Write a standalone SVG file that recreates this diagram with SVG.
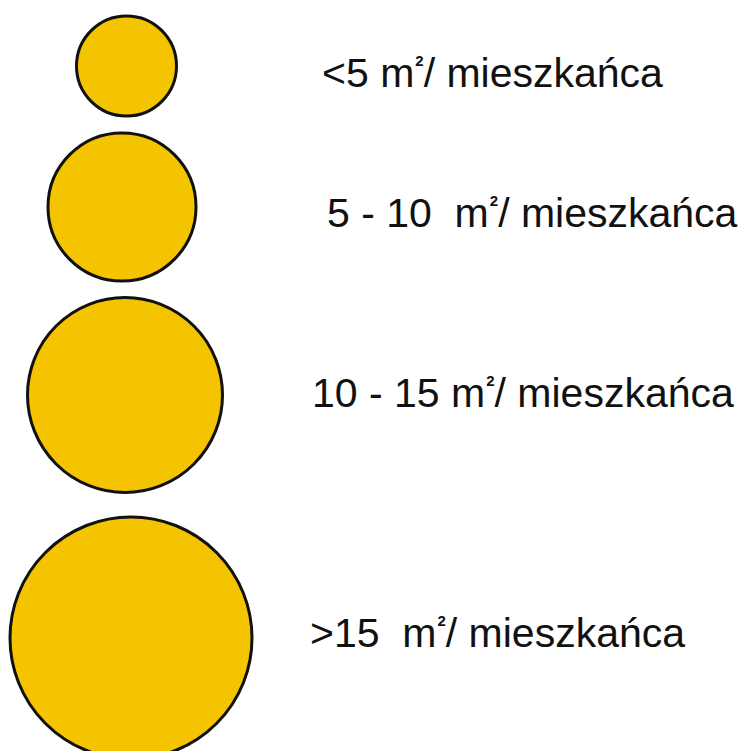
<svg xmlns="http://www.w3.org/2000/svg" width="740" height="751" viewBox="0 0 740 751">
<style>
.c{fill:#F4C400;stroke:#111;stroke-width:3}
.t{font-family:"Liberation Sans",Arial,sans-serif;font-size:41px;fill:#111}
.s{font-size:15px;font-weight:bold}
</style>
<rect width="740" height="751" fill="#fff"/>
<g id="n1"><circle class="c" cx="126.5" cy="66" r="50"/>
<text class="t" x="322" y="87">&lt;5 m<tspan class="s" dy="-21" dx="1">2</tspan><tspan dy="21" dx="0">/ mieszkańca</tspan></text></g>
<g id="n2"><circle class="c" cx="122" cy="207" r="74"/>
<text class="t" x="327" y="227" xml:space="preserve">5 - 10  m<tspan class="s" dy="-21" dx="1">2</tspan><tspan dy="21" dx="0">/ mieszkańca</tspan></text></g>
<g id="n3"><circle class="c" cx="125" cy="395" r="97.5"/>
<text class="t" x="312" y="407">10 - 15 m<tspan class="s" dy="-21" dx="1">2</tspan><tspan dy="21" dx="0">/ mieszkańca</tspan></text></g>
<g id="n4"><circle class="c" cx="131" cy="638" r="121"/>
<text class="t" x="310" y="647" xml:space="preserve">&gt;15  m<tspan class="s" dy="-21" dx="1">2</tspan><tspan dy="21" dx="0">/ mieszkańca</tspan></text></g>
</svg>
